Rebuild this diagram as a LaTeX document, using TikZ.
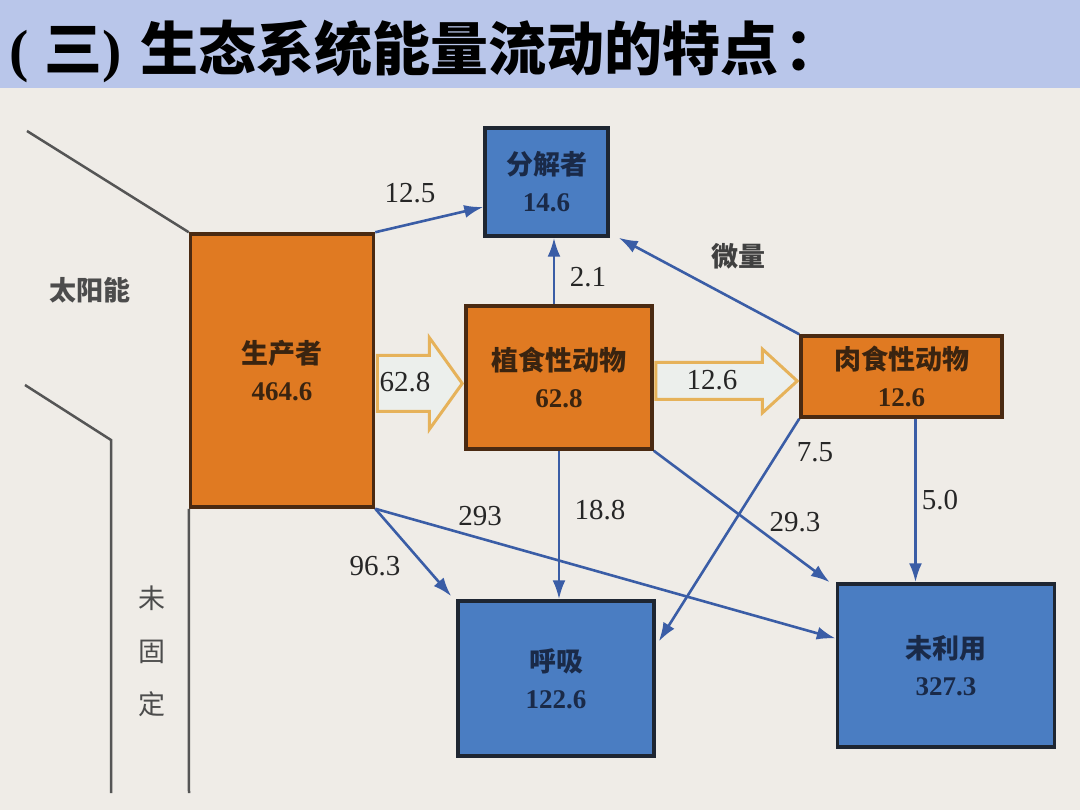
\documentclass[tikz,border=0pt]{standalone}
\usepackage{fontspec}
\setmainfont{Liberation Serif}
\newfontfamily\cjk{Noto Sans CJK SC}
\usetikzlibrary{calc,arrows.meta}

\definecolor{titlebg}{HTML}{B9C6EA}
\definecolor{paper}{HTML}{EFECE7}
\definecolor{orangefill}{HTML}{E07A22}
\definecolor{bluefill}{HTML}{4A7DC2}
\definecolor{boxbrown}{HTML}{4A2A12}
\definecolor{boxnavy}{HTML}{1E2632}
\definecolor{textbrown}{HTML}{3A2410}
\definecolor{textnavy}{HTML}{1A2A48}
\definecolor{flow}{HTML}{3A5DA6}
\definecolor{gold}{HTML}{E6B25A}
\definecolor{hollowfill}{HTML}{ECEFEC}
\definecolor{edgeline}{HTML}{555555}

\begin{document}
\begin{tikzpicture}[x=1pt,y=-1pt]

  \tikzset{
    orangepool/.style={draw=boxbrown, fill=orangefill, text=textbrown, line width=3.5pt, align=center, inner sep=0pt, font=\fontsize{27}{37}\selectfont},
    bluepool/.style={draw=boxnavy, fill=bluefill, text=textnavy, line width=3.5pt, align=center, inner sep=0pt, font=\fontsize{27}{37}\selectfont},
    flowline/.style={-{Latex[length=19pt,width=13pt]}, draw=flow, line width=2.6pt},
    fatflow/.style={draw=gold, line width=3pt, fill=hollowfill, line join=miter},
    value/.style={font=\fontsize{29}{29}\selectfont, text=black!85},
    greyline/.style={draw=edgeline, line width=2.5pt}
  }

  \useasboundingbox (0,0) rectangle (1080,810);
  \fill [paper] (0,0) rectangle (1080,810);
  \fill [titlebg] (0,0) rectangle (1080,88);

  \node [anchor=west, font=\cjk\bfseries\fontsize{58}{58}\selectfont] (title) at (6,51)
    {{\rmfamily(}\hspace{16pt}三{\rmfamily)}\hspace{18pt}生态系统能量流动的特点\hspace{6pt}：};

  %%% pools
  \node [orangepool, minimum width=183, minimum height=273] (prod) at (282,370.5) {{\cjk\bfseries 生产者}\\{\bfseries 464.6}};
  \node [bluepool, minimum width=123, minimum height=108] (dec) at (546.5,182) {{\cjk\bfseries 分解者}\\{\bfseries 14.6}};
  \node [orangepool, minimum width=186, minimum height=143] (herb) at (559,377.5) {{\cjk\bfseries 植食性动物}\\{\bfseries 62.8}};
  \node [orangepool, minimum width=201, minimum height=81] (carn) at (901.5,376.5) {{\cjk\bfseries 肉食性动物}\\{\bfseries 12.6}};
  \node [bluepool, minimum width=196, minimum height=155] (resp) at (556,678.5) {{\cjk\bfseries 呼吸}\\{\bfseries 122.6}};
  \node [bluepool, minimum width=217, minimum height=163] (unused) at (946,665.5) {{\cjk\bfseries 未利用}\\{\bfseries 327.3}};

  %%% sunlight and unfixed energy
  \coordinate (sun1) at (27,131);
  \coordinate (sun2) at (25,385);
  \coordinate (bend) at (111,440);
  \coordinate (low1) at (111,793);
  \coordinate (low2) at (189,793);
  \draw [greyline] (sun1) -- (prod.north west);
  \draw [greyline] (sun2) -- (bend) -- (low1);
  \draw [greyline] (prod.south west) -- (low2);

  \node [font=\cjk\bfseries\fontsize{27}{27}\selectfont, text=black!70] (solar) at (90,290) {太阳能};
  \node [align=center, font=\cjk\fontsize{27}{53}\selectfont, text=black!70] (unfixed) at (152,651) {未\\固\\定};

  %%% hollow arrows along the food chain
  \coordinate (f1a) at ($(prod.east)+(0,13)$);
  \coordinate (f1b) at (f1a -| herb.west);
  \draw [fatflow] ($(f1a)+(2,-28)$) -- ($(f1b)+(-35,-28)$) -- ($(f1b)+(-35,-46)$) -- ($(f1b)+(-2,0)$)
    -- ($(f1b)+(-35,46)$) -- ($(f1b)+(-35,28)$) -- ($(f1a)+(2,28)$) -- cycle;
  \node [value] (v628) at (405,382) {62.8};

  \coordinate (f2a) at ($(herb.east)+(0,3.5)$);
  \coordinate (f2b) at (f2a -| carn.west);
  \draw [fatflow] ($(f2a)+(2,-18.5)$) -- ($(f2b)+(-37,-18.5)$) -- ($(f2b)+(-37,-32)$) -- ($(f2b)+(-2,0)$)
    -- ($(f2b)+(-37,32)$) -- ($(f2b)+(-37,18.5)$) -- ($(f2a)+(2,18.5)$) -- cycle;
  \node [value] (v126) at (712,380) {12.6};

  %%% energy flows
  \draw [flowline] (prod.north east) -- ([yshift=-25pt]dec.west);
  \draw [flowline] ([xshift=-5pt]herb.north) -- ([xshift=-5pt]herb.north |- dec.south);
  \draw [flowline] (carn.north west) -- ([xshift=9pt]dec.south east);
  \draw [flowline] (herb.south) -- (herb.south |- resp.north);
  \draw [flowline] (herb.south east) -- ([xshift=-6pt]unused.north west);
  \draw [flowline] (carn.south west) -- ([xshift=3pt,yshift=37pt]resp.east);
  \draw [flowline] ([xshift=14pt]carn.south) -- ([xshift=14pt]carn.south |- unused.north);
  \draw [flowline] (prod.south east) -- ([yshift=27pt]unused.west);
  \draw [flowline] (prod.south east) -- ([xshift=-5pt,yshift=3pt]resp.north west);

  \node [value] (v125) at (410,193) {12.5};
  \node [value] (v21) at (588,277) {2.1};
  \node [font=\cjk\bfseries\fontsize{27}{27}\selectfont, text=black!75] (trace) at (738,256) {微量};
  \node [value] (v188) at (600,510) {18.8};
  \node [value] (v293b) at (795,522) {29.3};
  \node [value] (v75) at (815,452) {7.5};
  \node [value] (v50) at (940,500) {5.0};
  \node [value] (v293) at (480,516) {293};
  \node [value] (v963) at (375,566) {96.3};

\end{tikzpicture}
\end{document}
